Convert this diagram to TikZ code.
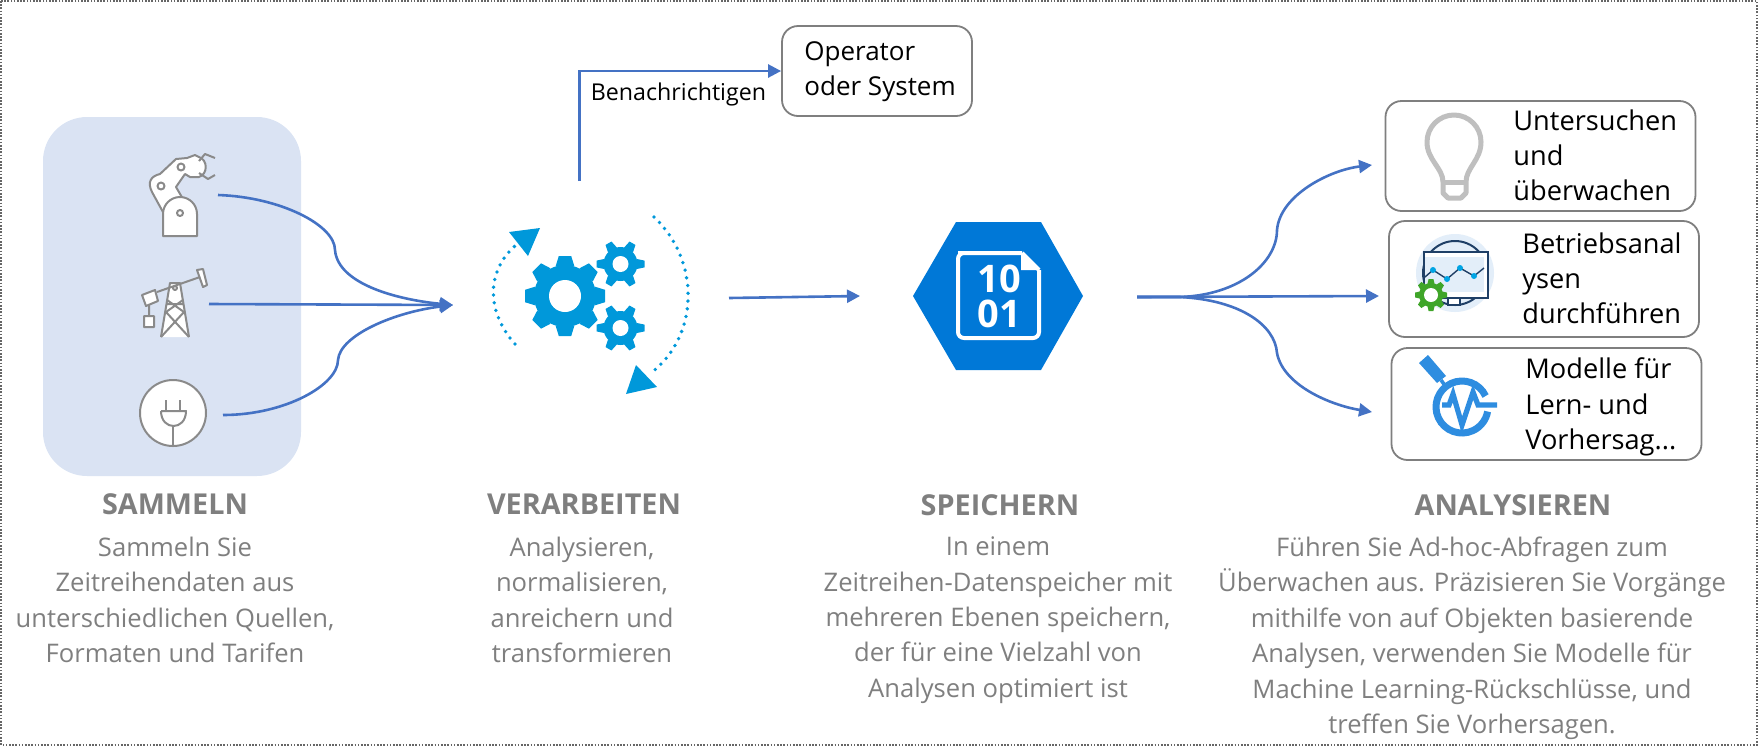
\documentclass[tikz,border=0pt]{standalone}
\usepackage{fontspec}
\setmainfont{Open Sans}
\usetikzlibrary{arrows.meta,positioning}
\definecolor{flowblue}{HTML}{4472C4}
\definecolor{panelblue}{HTML}{DAE3F3}
\definecolor{gearblue}{HTML}{0098DA}
\definecolor{hexblue}{HTML}{0078D7}
\definecolor{iconblue}{HTML}{2E8DE0}
\definecolor{textgray}{HTML}{7F7F7F}
\definecolor{icongray}{HTML}{8A8A8A}
\definecolor{bulbgray}{HTML}{BFBFBF}
\definecolor{navyline}{HTML}{1F3F66}
\definecolor{paleblue}{HTML}{E3EEF9}
\definecolor{gearblue2}{HTML}{00A4E4}
\definecolor{geargreen}{HTML}{3FA529}
\tikzset{
  flowline/.style={draw=flowblue,line width=1.3pt,-{Triangle[length=6.5pt,width=6.5pt]}},
  roundbox/.style={draw=textgray,line width=.9pt,fill=white,rounded corners=8pt,minimum width=#1,inner sep=0pt},
  boxlabel/.style={anchor=west,align=left,inner sep=0pt,text=black,font=\fontsize{13.6}{17.6}\selectfont},
  headlabel/.style={inner sep=0pt,text=textgray,font=\fontsize{14.4}{17.6}\selectfont\bfseries},
  bodylabel/.style={anchor=north,align=center,inner sep=0pt,text=textgray,font=\fontsize{12.8}{17.7}\selectfont},
  iconline/.style={draw=icongray,line width=1pt,fill=white,line join=round},
  dotarc/.style={draw=gearblue,line width=1.9pt,line cap=round,dash pattern=on 0pt off 3.9pt}
}
% gear: x, y, outer, root, hole, teeth, colour
\newcommand{\geardraw}[7]{
\begin{scope}[shift={(#1,#2)}]
\fill[#7] (0,0) circle[radius=#4];
\foreach \k in {1,...,#6}{
\fill[#7,rotate=\k*360/#6] (#4-1,-.30*#4) -- (#3,-.2*#4) -- (#3,.2*#4) -- (#4-1,.30*#4) -- cycle;
}
\fill[white] (0,0) circle[radius=#5];
\end{scope}
}
\begin{document}
\begin{tikzpicture}[x=.5pt,y=-.5pt]
\useasboundingbox (0,0) rectangle (1763,746);
\draw[black!60,line width=.8pt,dash pattern=on .8pt off .8pt] (1,1) rectangle (1757,745);

% sources
\fill[panelblue,rounded corners=22pt] (43,117) rectangle (301,476);

% robot
\draw[iconline] (163,212) -- (152,192) .. controls (147,182) and (151,176) .. (160,174) -- (176,159)
  -- (187,158) -- (195,155) -- (199,157) .. controls (208,160) and (208,174) .. (199,177)
  -- (190,177) -- (185,174) -- (176,187) -- (183,199) -- cycle;
\draw[iconline] (163,236) -- (163,214) arc[start angle=180,end angle=360,radius=17] -- (197,236) -- cycle;
\draw[iconline] (161,186) circle[radius=3.5] (181,167) circle[radius=3.5] (180,213) circle[radius=3];
\draw[iconline,fill=none] (199,161) -- (205,154) -- (215,158) (199,173) -- (208,179) -- (215,175);

% pump
\draw[iconline] (161,337) -- (170,283) -- (180,283) -- (189,337) (166,304) -- (184,304);
\draw[iconline,fill=none] (161,337) -- (184,312) -- (167,300) (189,337) -- (166,312) -- (183,300);
\draw[iconline,fill=none] (157,292) -- (200,277) (149,300) -- (149,316);
\draw[iconline] (142,295) -- (155,290) -- (158,301) -- (146,306) -- cycle;
\draw[iconline] (197,270) -- (203,269) -- (207,285) -- (203,287) -- cycle;
\draw[iconline] (144,316) rectangle (154,327) (175,288) circle[radius=2];

% plug
\draw[iconline] (173,413) circle[radius=33];
\draw[iconline,fill=none] (166,400) -- (166,411) (180,400) -- (180,411) (173,426) -- (173,446);
\draw[iconline,fill=none] (161,411) -- (186,411) .. controls (186,431) and (161,431) .. (161,411);

\coordinate (robotout) at (218,195);
\coordinate (pumpout) at (209,304);
\coordinate (plugout) at (223,415);
\coordinate (merge) at (453,305);

\draw[flowline] (robotout) .. controls (280,197) and (335,225) .. (335,250)
  .. controls (338,285) and (400,300) .. (merge);
\draw[flowline] (pumpout) -- (merge);
\draw[flowline] (plugout) .. controls (285,415) and (338,385) .. (338,360)
  .. controls (340,335) and (395,312) .. (merge);

% gears
\geardraw{565}{296}{40}{31}{16}{8}{gearblue}
\geardraw{620.5}{264}{24}{17}{8}{6}{gearblue}
\geardraw{620.5}{328}{24}{17}{8}{6}{gearblue}
\draw[dotarc] (515,344) .. controls (485,310) and (487,270) .. (516,245);
\fill[gearblue] (509,232) -- (540,228) -- (528,256) -- cycle;
\draw[dotarc] (654,217) .. controls (700,260) and (700,335) .. (651,373);
\fill[gearblue] (636,365) -- (657,387) -- (626,394) -- cycle;

\coordinate (notifyout) at (579.5,181);
\node[roundbox=95pt,minimum height=45pt] (operator) at (877,71) {};
\node[boxlabel,font=\fontsize{13}{17.6}\selectfont] (operatorlabel) at (804,71.5) {Operator\\oder System};
\draw[flowline] (notifyout) |- (operator.west);
\node[inner sep=0pt,text=black,font=\fontsize{11.6}{13}\selectfont] (notifylabel) at (678.5,94) {Benachrichtigen};

\coordinate (gearsout) at (729,298);
\coordinate (storein) at (860,296);
\draw[flowline] (gearsout) -- (storein);

% storage
\fill[hexblue] (913,296) -- (956,222) -- (1041,222) -- (1083,296) -- (1041,370) -- (956,370) -- cycle;
\draw[white,line width=2pt,rounded corners=3pt] (1022,253) -- (964,253) -- (958,253) -- (958,338) -- (1039,338) -- (1039,270);
\draw[white,line width=2pt] (1022,253) -- (1039,270);
\fill[white] (1021,253) -- (1021,270) -- (1039,270) -- cycle;
\node[inner sep=0pt,text=white,font=\fontsize{19}{17.7}\selectfont\bfseries,align=center] (bits) at (999,296.5) {10\\01};

\coordinate (storeout) at (1137,297);
\coordinate (forkpt) at (1180,297);
\coordinate (inspectin) at (1372,165);
\coordinate (opsin) at (1379,296);
\coordinate (modelin) at (1372,412);
\draw[flowline] (storeout) -- (forkpt) .. controls (1240,295) and (1277,262) .. (1277,230)
  .. controls (1280,195) and (1330,170) .. (inspectin);
\draw[flowline] (storeout) -- (opsin);
\draw[flowline] (storeout) -- (forkpt) .. controls (1240,300) and (1275,325) .. (1277,353)
  .. controls (1283,385) and (1330,405) .. (modelin);

% right boxes
\node[roundbox=155pt,minimum height=55pt] (inspect) at (1540.5,156) {};
\node[roundbox=155pt,minimum height=58pt] (ops) at (1544,279) {};
\node[roundbox=155pt,minimum height=56pt] (model) at (1546.5,404) {};
\node[boxlabel] (inspectlabel) at (1513,155) {Untersuchen\\und\\überwachen};
\node[boxlabel] (opslabel) at (1522,278) {Betriebsanal\\ysen\\durchführen};
\node[boxlabel] (modellabel) at (1525,407) {Modelle für\\Lern- und\\Vorhersag...};

% bulb
\draw[draw=bulbgray,line width=2.5pt,line join=round] (1443,182) .. controls (1443,168) and (1427,160) .. (1427,142)
  arc[start angle=180,end angle=360,radius=27]
  .. controls (1481,160) and (1466,168) .. (1466,182) -- (1466,193) -- (1461,198) -- (1448,198) -- (1443,193) -- cycle;
\draw[draw=bulbgray,line width=2.5pt] (1443,182) -- (1466,182);

% monitor
\fill[paleblue] (1455,273) circle[radius=39];
\draw[navyline,line width=1pt] (1455,273) circle[radius=32];
\draw[navyline,line width=.6pt,fill=white] (1448,298) rectangle (1460,305);
\draw[navyline,line width=.7pt,fill=white] (1424,252) rectangle (1488,298);
\fill[paleblue] (1425,257) rectangle (1484,292);
\draw[navyline,line width=.7pt] (1425,277) -- (1433,270) -- (1447,279) -- (1460,268) -- (1474,276) -- (1484,268);
\foreach \px/\py in {1433/270,1447/279,1460/268,1474/276}{
\fill[gearblue2] (\px,\py) circle[radius=3];
}
\geardraw{1431}{295}{16}{12}{7}{8}{geargreen}

% magnifier
\fill[iconblue] (1419,363) -- (1428,355) -- (1446,376) -- (1437,383) -- cycle;
\draw[iconblue,line width=1.8pt] (1441,380) -- (1446,387);
\draw[iconblue,line width=3.5pt] (1462,407) ++(-25:26) arc[start angle=-25,end angle=-350,radius=26];
\draw[iconblue,line width=2.6pt,line join=miter] (1442,405) -- (1449,405) -- (1453,394) -- (1462,425) -- (1473,392) -- (1478,405) -- (1497,405);

% captions
\node[headlabel] (collecthead) at (175,504) {SAMMELN};
\node[bodylabel] (collectbody) at (175,536.5) {Sammeln Sie\\Zeitreihendaten aus\\unterschiedlichen Quellen,\\Formaten und Tarifen};
\node[headlabel] (processhead) at (584,504) {VERARBEITEN};
\node[bodylabel] (processbody) at (582,536.5) {Analysieren,\\normalisieren,\\anreichern und\\transformieren};
\node[headlabel] (storehead) at (1000,505) {SPEICHERN};
\node[bodylabel] (storebody) at (998,536.5) {In einem\\Zeitreihen-Datenspeicher mit\\mehreren Ebenen speichern,\\der für eine Vielzahl von\\Analysen optimiert ist};
\node[headlabel] (analysehead) at (1513,505) {ANALYSIEREN};
\node[bodylabel] (analysebody) at (1472,536.5) {Führen Sie Ad-hoc-Abfragen zum\\Überwachen aus. Präzisieren Sie Vorgänge\\mithilfe von auf Objekten basierende\\Analysen, verwenden Sie Modelle für\\Machine Learning-Rückschlüsse, und\\treffen Sie Vorhersagen.};
\end{tikzpicture}
\end{document}
